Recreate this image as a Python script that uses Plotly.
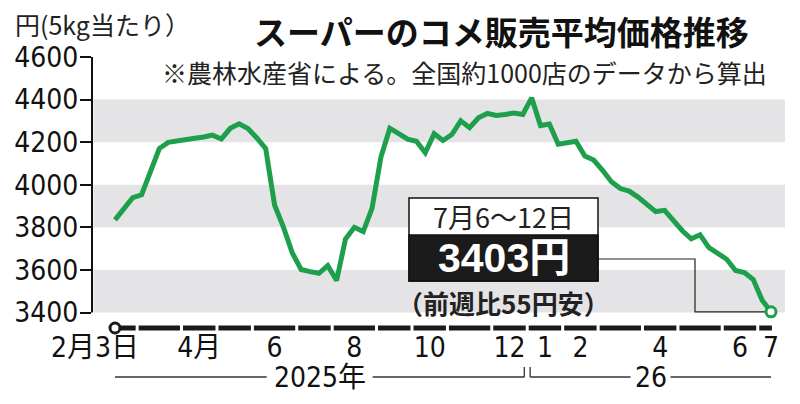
import numpy as np
import pandas as pd
import plotly.graph_objects as go

# ---------------- data ----------------
start_date = "2025-02-03"
prices = [3835, 3887, 3939, 3953, 4065, 4170, 4199, 4207, 4214, 4218,
          4224, 4233, 4215, 4265, 4286, 4264, 4220, 4170, 3905, 3801,
          3680, 3602, 3592, 3584, 3620, 3550, 3745, 3800, 3780, 3890,
          4130, 4265, 4240, 4214, 4204, 4150, 4240, 4208, 4236, 4300,
          4268, 4314, 4335, 4325, 4330, 4337, 4330, 4408, 4278, 4285,
          4190, 4196, 4204, 4135, 4116, 4068, 4014, 3982, 3970, 3942,
          3908, 3874, 3880, 3828, 3784, 3746, 3765, 3705, 3674, 3650,
          3597, 3588, 3555, 3458, 3403]
y_ticks = [3400, 3600, 3800, 4000, 4200, 4400, 4600]
gray_bands = [(3400, 3600), (3800, 4000), (4200, 4400)]
month_labels = {(2025, 4): "4月", (2025, 6): "6", (2025, 8): "8", (2025, 10): "10",
                (2025, 12): "12", (2026, 1): "1", (2026, 2): "2", (2026, 4): "4",
                (2026, 6): "6"}
first_label = "2月3日"
last_label = "7"
year_labels = {2025: "2025年", 2026: "26"}
title_text = "スーパーのコメ販売平均価格推移"
subtitle_text = "※農林水産省による。全国約1000店のデータから算出"
unit_text = "円(5kg当たり）"
box_period = "7月6～12日"
box_price = "3403円"
box_change = "（前週比55円安）"

# ---------------- geometry ----------------
W, H = 800, 404
L, R, T, B = 92, 15, 57, 76
PW, PH = W - L - R, H - T - B
n = len(prices)
x_first_px, x_last_px = 115, 771
ppw = (x_last_px - x_first_px) / (n - 1)
x_range = [-(x_first_px - L) / ppw, (n - 1) + (W - R - x_last_px) / ppw]
ppu = (312.5 - T) / (4600 - 3400)
y_range = [3400 - (H - B - 312.5) / ppu, 4600]


def px2x(px):
    return (px - L) / PW


def py2y(py):
    return (H - B - py) / PH


idx = np.arange(n)
weeks = pd.date_range(start_date, periods=n, freq="7D")
week_end = weeks + pd.Timedelta(days=6)
groups = []
seen = []
for i in idx:
    key = (int(week_end[i].year), int(week_end[i].month))
    if key not in seen:
        seen.append(key)
        groups.append([key, i, i])
    else:
        groups[-1][2] = i

tickvals, ticktext = [], []
tickvals.append(x_range[0] + (95 - L) / ppw)
ticktext.append(first_label)
for key, a, b in groups:
    if key in month_labels:
        tickvals.append((a + b) / 2)
        ticktext.append(month_labels[key])
tickvals.append(n - 1)
ticktext.append(last_label)

GREEN = "#1e9f4b"
NARROW = "Liberation Sans Narrow, DejaVu Sans Condensed, Noto Sans CJK JP, sans-serif"
JP = "Noto Sans CJK JP, sans-serif"
TICK_SIZE = 28

fig = go.Figure()
fig.add_trace(go.Scatter(x=idx, y=prices, mode="lines",
                         line=dict(color=GREEN, width=5, shape="linear"),
                         hoverinfo="skip", showlegend=False))
fig.add_trace(go.Scatter(x=[idx[-1]], y=[prices[-1]], mode="markers",
                         marker=dict(size=10, color="white",
                                     line=dict(color=GREEN, width=3)),
                         cliponaxis=False, hoverinfo="skip", showlegend=False))

shapes = []
for lo, hi in gray_bands:
    shapes.append(dict(type="rect", xref="paper", yref="y", x0=0.002, x1=1,
                       y0=lo, y1=hi, fillcolor="#e4e4e6", line=dict(width=0),
                       layer="below"))
# y axis line
shapes.append(dict(type="line", xref="paper", yref="y", x0=0, x1=0,
                   y0=y_ticks[0], y1=y_ticks[-1], line=dict(color="#111", width=2)))
# x axis dashes (one per month)
g = 0.17
for k, (key, a, b) in enumerate(groups):
    x0 = 0 if k == 0 else a - 0.5 + g
    x1 = b + 0.1 if k == len(groups) - 1 else b + 0.5 - g
    shapes.append(dict(type="line", xref="x", yref="paper", x0=x0, x1=x1,
                       y0=0, y1=0, line=dict(color="#1a1a1a", width=5)))
# start circle
shapes.append(dict(type="circle", xref="x", yref="paper", xsizemode="pixel",
                   ysizemode="pixel", xanchor=0, yanchor=0, x0=-5, x1=5, y0=-5, y1=5,
                   fillcolor="white", line=dict(color="#1a1a1a", width=3)))
# year brackets
yl = py2y(377)
yt = py2y(367)
boundary = [b for key, a, b in groups if key[0] == 2025][-1] + 0.5
spans = {2025: (0, boundary - 0.33), 2026: (boundary + 0.33, n - 1)}
half_gap_px = {2025: 53, 2026: 20}
for yr, (s0, s1) in spans.items():
    c = (s0 + s1) / 2
    hg = half_gap_px[yr] / ppw
    for a0, a1 in [(s0, c - hg), (c + hg, s1)]:
        shapes.append(dict(type="line", xref="x", yref="paper", x0=a0, x1=a1, y0=yl, y1=yl,
                           line=dict(color="#333", width=1.3)))
shapes.append(dict(type="line", xref="x", yref="paper", x0=spans[2025][1], x1=spans[2025][1],
                   y0=yl, y1=yt, line=dict(color="#333", width=1.3)))
shapes.append(dict(type="line", xref="x", yref="paper", x0=spans[2026][0], x1=spans[2026][0],
                   y0=yl, y1=yt, line=dict(color="#333", width=1.3)))
# callout box
bx0, bx1 = px2x(409), px2x(598)
shapes.append(dict(type="rect", xref="paper", yref="paper", x0=bx0, x1=bx1,
                   y0=py2y(281), y1=py2y(198), fillcolor="white",
                   line=dict(color="#111", width=1.5)))
shapes.append(dict(type="rect", xref="paper", yref="paper", x0=bx0, x1=bx1,
                   y0=py2y(281), y1=py2y(235), fillcolor="#1b1b1b",
                   line=dict(color="#111", width=1.5)))
# leader line to last point
last_x = (idx[-1] - x_range[0]) / (x_range[1] - x_range[0])
last_y = (prices[-1] - y_range[0]) / (y_range[1] - y_range[0])
lx = px2x(695)
shapes.append(dict(type="path", xref="paper", yref="paper",
                   path=f"M {bx1},{py2y(259)} L {lx},{py2y(259)} L {lx},{last_y} L {last_x},{last_y}",
                   line=dict(color="#222", width=1.2), layer="below"))

annotations = [
    dict(text=f"<b>{title_text}</b>", x=px2x(501), y=py2y(31), xref="paper", yref="paper",
         showarrow=False, font=dict(family=JP, size=33, color="#111"), xanchor="center",
         yanchor="middle"),
    dict(text=subtitle_text, x=px2x(464), y=py2y(72), xref="paper", yref="paper",
         showarrow=False, font=dict(family=JP, size=25, color="#222"), xanchor="center",
         yanchor="middle"),
    dict(text=unit_text, x=px2x(14), y=py2y(24), xref="paper", yref="paper",
         showarrow=False, font=dict(family=JP, size=25, color="#222"), xanchor="left",
         yanchor="middle", borderpad=0),
    dict(text=box_period, x=(bx0 + bx1) / 2, y=py2y(216.5), xref="paper", yref="paper",
         showarrow=False, font=dict(family=JP, size=27, color="#222"), xanchor="center",
         yanchor="middle"),
    dict(text=f"<b>{box_price}</b>", x=(bx0 + bx1) / 2, y=py2y(258), xref="paper", yref="paper",
         showarrow=False, font=dict(family="Liberation Sans, Noto Sans CJK JP, sans-serif",
                                    size=41, color="white"),
         xanchor="center", yanchor="middle"),
    dict(text=f"<b>{box_change}</b>", x=(bx0 + bx1) / 2, y=py2y(302), xref="paper", yref="paper",
         showarrow=False, font=dict(family=JP, size=26, color="#222"), xanchor="center",
         yanchor="middle"),
]
for yr, (s0, s1) in spans.items():
    annotations.append(dict(text=year_labels[yr], x=(s0 + s1) / 2, y=yl, xref="x", yref="paper",
                            showarrow=False, font=dict(family=NARROW, size=TICK_SIZE, color="#111"),
                            xanchor="center", yanchor="middle"))

fig.update_layout(
    width=W, height=H, margin=dict(l=L, r=R, t=T, b=B, autoexpand=False),
    paper_bgcolor="white", plot_bgcolor="white",
    shapes=shapes, annotations=annotations, showlegend=False,
    xaxis=dict(range=x_range, tickvals=tickvals, ticktext=ticktext, showgrid=False,
               zeroline=False, showline=False, ticks="",
               tickfont=dict(family=NARROW, size=TICK_SIZE, color="#111"), fixedrange=True),
    yaxis=dict(range=y_range, tickvals=y_ticks, showgrid=False, zeroline=False,
               showline=False, ticks="outside", ticklen=11, tickwidth=2, tickcolor="#111",
               ticklabelstandoff=-4,
               tickfont=dict(family=NARROW, size=TICK_SIZE, color="#111"), fixedrange=True),
)
fig.write_html("out.html", config={"displayModeBar": False})
